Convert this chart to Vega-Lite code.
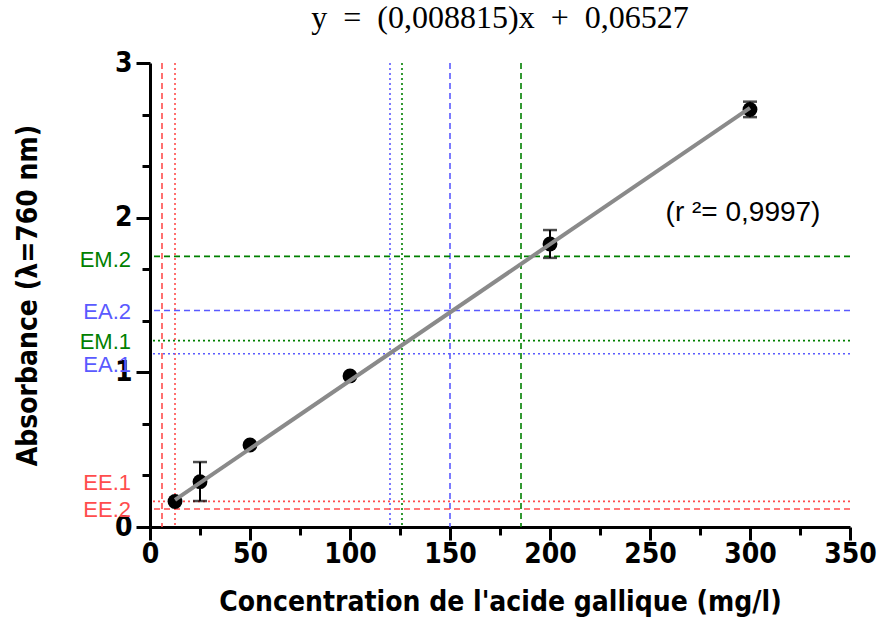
{
  "$schema": "https://vega.github.io/schema/vega-lite/v6.json",
  "width": 700,
  "height": 464,
  "autosize": "none",
  "padding": {"left": 150, "top": 63, "right": 27, "bottom": 100},
  "background": "white",
  "config": {"view": {"stroke": null}, "axis": {"grid": false}},
  "title": {
    "text": "y \u00a0=\u00a0 (0,008815)x \u00a0+\u00a0 0,06527",
    "font": "Liberation Serif",
    "fontSize": 32,
    "fontWeight": "normal",
    "color": "black",
    "anchor": "middle",
    "frame": "group",
    "baseline": "bottom",
    "offset": -18
  },
  "datasets": {
    "refs": [
      {"name": "EE.2", "group": "EE", "rep": 2, "conc": 6, "abs": 0.116, "label_at": 0.11},
      {"name": "EE.1", "group": "EE", "rep": 1, "conc": 12.5, "abs": 0.166, "label_at": 0.285},
      {"name": "EA.1", "group": "EA", "rep": 1, "conc": 120, "abs": 1.12, "label_at": 1.048},
      {"name": "EM.1", "group": "EM", "rep": 1, "conc": 126, "abs": 1.205, "label_at": 1.197},
      {"name": "EA.2", "group": "EA", "rep": 2, "conc": 150, "abs": 1.40, "label_at": 1.39},
      {"name": "EM.2", "group": "EM", "rep": 2, "conc": 185.5, "abs": 1.75, "label_at": 1.727}
    ],
    "points": [
      {"conc": 12.5, "abs": 0.165},
      {"conc": 25, "abs": 0.293, "lo": 0.168, "hi": 0.42},
      {"conc": 50, "abs": 0.53},
      {"conc": 100, "abs": 0.977},
      {"conc": 200, "abs": 1.83, "lo": 1.74, "hi": 1.92},
      {"conc": 300, "abs": 2.70, "lo": 2.65, "hi": 2.75}
    ],
    "fit": [
      {"conc": 12.5, "abs": 0.1755},
      {"conc": 300, "abs": 2.7098}
    ]
  },
  "layer": [
    {
      "data": {"name": "refs"},
      "mark": {"type": "rule", "strokeWidth": 1.6},
      "encoding": {
        "x": {
          "field": "conc",
          "type": "quantitative",
          "scale": {"domain": [0, 350], "nice": false},
          "axis": {
            "title": "Concentration de l'acide gallique (mg/l)",
            "titleFont": "DejaVu Sans Condensed, DejaVu Sans, sans-serif",
            "titleFontSize": 28,
            "titleFontWeight": "bold",
            "titleColor": "black",
            "titlePadding": 20,
            "values": [0, 25, 50, 75, 100, 125, 150, 175, 200, 225, 250, 275, 300, 325, 350],
            "labelExpr": "datum.value % 50 === 0 ? datum.label : ''",
            "labelOverlap": false,
            "labelFont": "DejaVu Sans Condensed, DejaVu Sans, sans-serif",
            "labelFontSize": 28,
            "labelFontWeight": "bold",
            "labelColor": "black",
            "labelPadding": 0,
            "labelFlush": false,
            "domainColor": "black",
            "domainWidth": 3,
            "tickColor": "black",
            "tickWidth": 3,
            "tickSize": {"condition": {"test": "datum.value % 50 === 0", "value": 13}, "value": 8}
          }
        },
        "color": {
          "field": "group",
          "type": "nominal",
          "scale": {"domain": ["EE", "EA", "EM"], "range": ["#ff4d4d", "#5a5aff", "#008000"]},
          "legend": null
        },
        "strokeDash": {
          "field": "rep",
          "type": "nominal",
          "scale": {"domain": [1, 2], "range": [[2, 3], [6, 4]]},
          "legend": null
        }
      }
    },
    {
      "data": {"name": "refs"},
      "mark": {"type": "rule", "strokeWidth": 1.6},
      "encoding": {
        "y": {
          "field": "abs",
          "type": "quantitative",
          "scale": {"domain": [0, 3], "nice": false},
          "axis": {
            "title": "Absorbance (λ=760 nm)",
            "titleFont": "DejaVu Sans Condensed, DejaVu Sans, sans-serif",
            "titleFontSize": 28,
            "titleFontWeight": "bold",
            "titleColor": "black",
            "titlePadding": 72,
            "values": [0, 0.33333, 0.66667, 1, 1.33333, 1.66667, 2, 2.33333, 2.66667, 3],
            "labelExpr": "abs(datum.value - round(datum.value)) < 0.01 ? format(datum.value, 'd') : ''",
            "labelOverlap": false,
            "labelFont": "DejaVu Sans Condensed, DejaVu Sans, sans-serif",
            "labelFontSize": 28,
            "labelFontWeight": "bold",
            "labelColor": "black",
            "labelPadding": 4,
            "labelFlush": false,
            "domainColor": "black",
            "domainWidth": 3,
            "tickColor": "black",
            "tickWidth": 3,
            "tickSize": {"condition": {"test": "abs(datum.value - round(datum.value)) < 0.01", "value": 14}, "value": 8}
          }
        },
        "color": {"field": "group", "type": "nominal", "legend": null},
        "strokeDash": {"field": "rep", "type": "nominal", "legend": null}
      }
    },
    {
      "data": {"name": "refs"},
      "mark": {"type": "text", "align": "right", "baseline": "middle", "dx": -19, "font": "Liberation Sans", "fontSize": 22, "clip": false},
      "encoding": {
        "x": {"datum": 0, "type": "quantitative"},
        "y": {"field": "label_at", "type": "quantitative"},
        "text": {"field": "name"},
        "color": {"field": "group", "type": "nominal", "legend": null}
      }
    },
    {
      "data": {"name": "points"},
      "mark": {"type": "rule", "color": "black", "strokeWidth": 2},
      "encoding": {
        "x": {"field": "conc", "type": "quantitative"},
        "y": {"field": "lo", "type": "quantitative"},
        "y2": {"field": "hi"}
      }
    },
    {
      "data": {"name": "points"},
      "mark": {"type": "tick", "orient": "horizontal", "color": "black", "size": 14, "thickness": 2.5},
      "encoding": {
        "x": {"field": "conc", "type": "quantitative"},
        "y": {"field": "lo", "type": "quantitative"}
      }
    },
    {
      "data": {"name": "points"},
      "mark": {"type": "tick", "orient": "horizontal", "color": "black", "size": 14, "thickness": 2.5},
      "encoding": {
        "x": {"field": "conc", "type": "quantitative"},
        "y": {"field": "hi", "type": "quantitative"}
      }
    },
    {
      "data": {"name": "points"},
      "mark": {"type": "point", "shape": "circle", "filled": true, "color": "black", "opacity": 1, "size": 220},
      "encoding": {
        "x": {"field": "conc", "type": "quantitative"},
        "y": {"field": "abs", "type": "quantitative"}
      }
    },
    {
      "data": {"name": "fit"},
      "mark": {"type": "line", "color": "#8a8a8a", "strokeWidth": 4},
      "encoding": {
        "x": {"field": "conc", "type": "quantitative"},
        "y": {"field": "abs", "type": "quantitative"}
      }
    },
    {
      "data": {"values": [{"txt": "(r ²= 0,9997)"}]},
      "mark": {"type": "text", "align": "center", "baseline": "middle", "font": "Liberation Sans", "fontSize": 28, "color": "black"},
      "encoding": {
        "x": {"datum": 296.5, "type": "quantitative"},
        "y": {"datum": 2.03, "type": "quantitative"},
        "text": {"field": "txt"}
      }
    }
  ]
}
